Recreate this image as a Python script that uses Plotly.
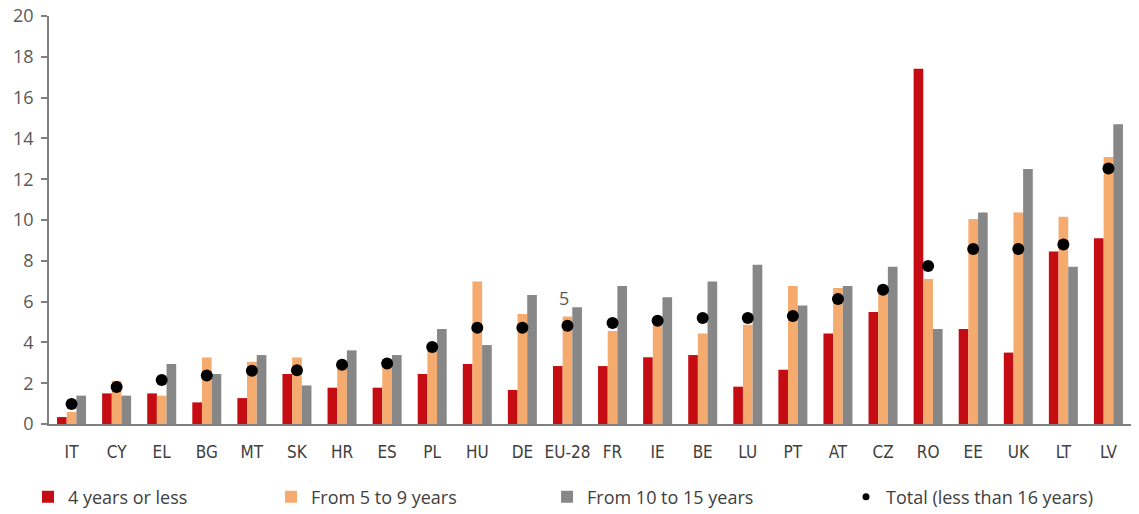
import plotly.graph_objects as go

# Countries / aggregates on the category axis
countries = ["IT", "CY", "EL", "BG", "MT", "SK", "HR", "ES", "PL", "HU", "DE", "EU-28",
             "FR", "IE", "BE", "LU", "PT", "AT", "CZ", "RO", "EE", "UK", "LT", "LV"]

# Shares by age group (%)
age_0_4 = [0.34, 1.50, 1.50, 1.06, 1.27, 2.45, 1.78, 1.78, 2.45, 2.94, 1.67, 2.84,
           2.84, 3.27, 3.38, 1.83, 2.66, 4.44, 5.49, 17.42, 4.66, 3.50, 8.45, 9.10]
age_5_9 = [0.59, 2.12, 1.39, 3.26, 3.05, 3.26, 2.91, 2.99, 3.77, 6.99, 5.39, 5.27,
           4.56, 4.87, 4.44, 4.87, 6.76, 6.67, 6.55, 7.11, 10.05, 10.37, 10.16, 13.09]
age_10_15 = [1.39, 1.39, 2.94, 2.45, 3.38, 1.89, 3.61, 3.38, 4.66, 3.87, 6.32, 5.72,
             6.76, 6.21, 6.99, 7.81, 5.81, 6.76, 7.71, 4.66, 10.37, 12.50, 7.71, 14.69]
total_under_16 = [0.98, 1.81, 2.16, 2.38, 2.61, 2.63, 2.91, 2.97, 3.77, 4.72, 4.72, 4.82,
                  4.95, 5.06, 5.20, 5.20, 5.29, 6.13, 6.58, 7.75, 8.58, 8.58, 8.80, 12.53]

y_ticks = [0, 2, 4, 6, 8, 10, 12, 14, 16, 18, 20]

RED = "#C40C12"
ORANGE = "#F5AA6E"
GREY = "#878787"
TEXT = "#404040"
AXIS = "#7F7F7F"

fig = go.Figure()
fig.add_trace(go.Bar(x=countries, y=age_0_4, name="4 years or less",
                     marker=dict(color=RED, line=dict(width=0)), legend="legend"))
fig.add_trace(go.Bar(x=countries, y=age_5_9, name="From 5 to 9 years",
                     marker=dict(color=ORANGE, line=dict(width=0)), legend="legend2"))
fig.add_trace(go.Bar(x=countries, y=age_10_15, name="From 10 to 15 years",
                     marker=dict(color=GREY, line=dict(width=0)), legend="legend3"))
fig.add_trace(go.Scatter(x=countries, y=total_under_16, mode="markers",
                         name="Total (less than 16 years)", showlegend=False,
                         marker=dict(color="black", size=12)))
# smaller dot for the legend key
fig.add_trace(go.Scatter(x=[countries[0]], y=[None], mode="markers",
                         name="Total (less than 16 years)", legend="legend4",
                         marker=dict(color="black", size=7)))

fig.add_annotation(x="EU-28", y=6.3, text="5", showarrow=False, xshift=-3, yshift=-3,
                   font=dict(family="Open Sans", size=18, color="#595959"))

legend_font = dict(family="Open Sans", size=18, color=TEXT)
common = dict(orientation="h", xanchor="left", yanchor="middle", y=-0.179,
              font=legend_font, bgcolor="rgba(0,0,0,0)", itemwidth=30)

fig.update_layout(
    width=1139, height=514,
    margin=dict(l=49, r=8, t=16, b=90, autoexpand=False),
    paper_bgcolor="white", plot_bgcolor="white",
    barmode="group", bargap=0.357, bargroupgap=0,
    legend=dict(x=-0.0194, **common),
    legend2=dict(x=0.2052, **common),
    legend3=dict(x=0.4603, **common),
    legend4=dict(x=0.7366, **common),
    xaxis=dict(
        range=[-0.5, len(countries) - 0.5], automargin=False,
        showline=True, linecolor=AXIS, linewidth=1.5, ticks="", showgrid=False,
        tickfont=dict(family="DejaVu Sans Condensed", size=17, color=TEXT),
        ticklabelstandoff=12, zeroline=False,
    ),
    yaxis=dict(
        range=[0, 20], tickvals=y_ticks, automargin=False,
        showline=True, linecolor=AXIS, linewidth=1.5,
        ticks="outside", ticklen=6, tickcolor=AXIS, tickwidth=1.5, showgrid=False, zeroline=False,
        tickfont=dict(family="Open Sans", size=18, color="#595959"), ticklabelstandoff=4,
    ),
)

fig.write_html("out.html")
